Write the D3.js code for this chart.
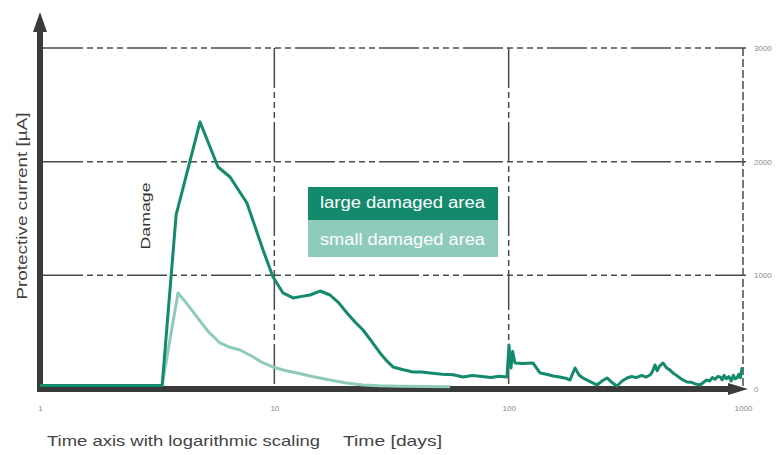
<!DOCTYPE html>
<html>
<head>
<meta charset="utf-8">
<script src="https://cdn.jsdelivr.net/npm/d3@7"></script>
<style>
  body { margin: 0; background: #fff; }
  svg { display: block; font-family: "Liberation Sans", Arial, sans-serif; }
</style>
</head>
<body>
<svg id="chart" width="779" height="455"></svg>
<script>
// time in days, protective current in µA
const largeDays = [1, 3.32, 3.81, 4.82, 5.75, 6.47, 7.64, 8.95, 9.87, 10.89, 12.02, 13.1, 14.2, 15.66, 17.28, 18.8, 20.42, 22.1, 23.9, 26.0, 28.24, 30.1, 32.1, 35.5, 39.07, 42.5, 46.2, 52, 58, 63.9, 70, 77, 84, 91, 98.4, 100.3, 101.3, 102.3, 104, 106.4, 115, 127, 132, 136.1, 145, 155, 165, 175, 182.7, 187, 191.9, 200, 207.6, 215, 225, 238.2, 250, 262.8, 275, 290, 305, 319.9, 335, 350, 370, 385, 401, 410, 421.2, 430, 440, 455.6, 470, 485, 502.7, 520, 540, 560, 576.8, 600, 625, 655.3, 680, 700, 720, 740, 760, 780, 797.9, 815, 830, 850, 870, 890, 910, 925, 942.8, 960, 975, 990, 1000];
const largeValues = [30, 30, 1531, 2349, 1953, 1865, 1636, 1223, 985, 845, 801, 815, 827, 862, 827, 760, 669, 590, 519, 420, 317, 250, 194, 170, 150, 150, 141, 130, 125, 106, 118, 110, 102, 112, 106, 387, 260, 185, 330, 229, 225, 229, 180, 141, 130, 115, 105, 95, 79, 130, 185, 120, 97, 80, 60, 35, 70, 97, 60, 26, 70, 97, 110, 100, 120, 105, 123, 150, 211, 160, 200, 229, 190, 170, 141, 120, 95, 75, 62, 60, 45, 35, 60, 80, 70, 100, 85, 110, 106, 80, 120, 90, 110, 70, 120, 90, 97, 130, 100, 180, 167];

const smallDays = [3.32, 3.88, 4.2, 4.68, 5.2, 5.86, 6.4, 7.14, 8.0, 8.95, 9.87, 11, 12.5, 14.5, 17.28, 20, 23.9, 28, 34.4, 56.2];
const smallValues = [30, 845, 760, 633, 510, 405, 370, 343, 290, 229, 194, 165, 141, 110, 79, 55, 35, 28, 25, 20];

const xTicks = [1, 10, 100, 1000];
const yTicks = [0, 1000, 2000, 3000];
const legendLabels = ["large damaged area", "small damaged area"];

const svg = d3.select("#chart");
const darkGreen = "#138a6c";
const lightGreen = "#8fcbba";
const axisColor = "#3a3a3a";

const x = d3.scaleLog().domain([1, 1000]).range([40, 743]);
const y = d3.scaleLinear().domain([0, 3000]).range([389, 48]);

// grid
const grid = svg.append("g").attr("stroke", "#4a4a4a").attr("stroke-width", 1.5).attr("fill", "none");
grid.selectAll("line.h")
    .data(yTicks.filter(d => d > 0))
    .enter().append("line")
    .attr("class", "h")
    .attr("x1", x(1) + 3).attr("x2", x(1000) + 3)
    .attr("y1", d => y(d)).attr("y2", d => y(d))
    .attr("stroke-dasharray", "40,4,6,4,6,4,6,4,6,4");
grid.selectAll("line.v")
    .data([10, 100])
    .enter().append("line")
    .attr("class", "v")
    .attr("x1", d => x(d)).attr("x2", d => x(d))
    .attr("y1", y(3000)).attr("y2", y(0))
    .attr("stroke-dasharray", "40,4,6,4,6,4,6,4");
grid.append("line")
    .attr("x1", x(1000)).attr("x2", x(1000))
    .attr("y1", y(3000)).attr("y2", y(0))
    .attr("stroke-dasharray", "8,3");

// curves
const line = d3.line().x(d => x(d[0])).y(d => y(d[1]));

// axes lines with arrows
svg.append("line")
    .attr("x1", x(1)).attr("x2", x(1))
    .attr("y1", y(0) + 3).attr("y2", 30)
    .attr("stroke", axisColor).attr("stroke-width", 6);
svg.append("path")
    .attr("d", `M${x(1)},12 L${x(1) - 7},32 L${x(1) + 7},32 Z`)
    .attr("fill", axisColor);
svg.append("line")
    .attr("x1", x(1) - 3).attr("x2", 730)
    .attr("y1", y(0)).attr("y2", y(0))
    .attr("stroke", axisColor).attr("stroke-width", 6);
svg.append("path")
    .attr("d", `M748,${y(0)} L728,${y(0) - 6} L728,${y(0) + 6} Z`)
    .attr("fill", axisColor);

svg.append("path")
    .datum(d3.zip(smallDays, smallValues))
    .attr("d", line)
    .attr("fill", "none")
    .attr("stroke", lightGreen)
    .attr("stroke-width", 3)
    .attr("stroke-linejoin", "round");

svg.append("path")
    .datum(d3.zip(largeDays, largeValues))
    .attr("d", line)
    .attr("fill", "none")
    .attr("stroke", darkGreen)
    .attr("stroke-width", 3)
    .attr("stroke-linejoin", "round");

// tick labels
const xAxis = d3.axisBottom(x).tickValues(xTicks).tickFormat(d3.format("d")).tickSize(0).tickPadding(16);
const xAxisGroup = svg.append("g").attr("transform", `translate(0, ${y(0)})`).call(xAxis);
xAxisGroup.select(".domain").remove();
xAxisGroup.selectAll("text").attr("font-size", 8).attr("fill", "#8a8a8a")
    .attr("font-family", "Liberation Sans, Arial, sans-serif");

const yAxis = d3.axisRight(y).tickValues(yTicks).tickFormat(d3.format("d")).tickSize(0).tickPadding(11);
const yAxisGroup = svg.append("g").attr("transform", `translate(${x(1000)}, 0)`).call(yAxis);
yAxisGroup.select(".domain").remove();
yAxisGroup.selectAll("text").attr("font-size", 8).attr("fill", "#8a8a8a")
    .attr("font-family", "Liberation Sans, Arial, sans-serif");

// titles
svg.append("text")
    .attr("x", 47).attr("y", 446)
    .attr("font-size", 15).attr("fill", "#444")
    .attr("textLength", 273).attr("lengthAdjust", "spacingAndGlyphs")
    .text("Time axis with logarithmic scaling");
svg.append("text")
    .attr("x", 343).attr("y", 446)
    .attr("font-size", 15).attr("fill", "#444")
    .attr("textLength", 99).attr("lengthAdjust", "spacingAndGlyphs")
    .text("Time [days]");

svg.append("text")
    .attr("transform", "translate(27, 206) rotate(-90)")
    .attr("text-anchor", "middle")
    .attr("font-size", 15).attr("fill", "#444")
    .attr("textLength", 187).attr("lengthAdjust", "spacingAndGlyphs")
    .text("Protective current [µA]");

svg.append("text")
    .attr("transform", "translate(150, 216) rotate(-90)")
    .attr("text-anchor", "middle")
    .attr("font-size", 13).attr("fill", "#333")
    .attr("textLength", 67).attr("lengthAdjust", "spacingAndGlyphs")
    .text("Damage");

// legend
const legend = svg.append("g").attr("transform", "translate(308, 187)");
const legendRows = legend.selectAll("g")
    .data(legendLabels)
    .enter().append("g")
    .attr("transform", (d, i) => `translate(0, ${i === 0 ? 0 : 33})`);
legendRows.append("rect")
    .attr("width", 190)
    .attr("height", (d, i) => i === 0 ? 33 : 37)
    .attr("fill", (d, i) => i === 0 ? darkGreen : lightGreen);
legendRows.append("text")
    .attr("x", 12)
    .attr("y", (d, i) => i === 0 ? 21 : 25)
    .attr("font-size", 16).attr("fill", "#fff")
    .attr("textLength", 165).attr("lengthAdjust", "spacingAndGlyphs")
    .text(d => d);
</script>
</body>
</html>
